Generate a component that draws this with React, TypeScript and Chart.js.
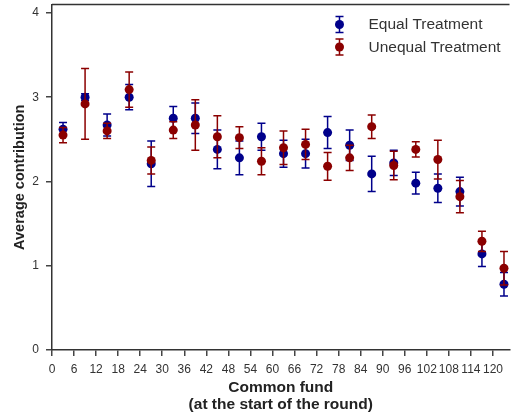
import React, { useEffect, useRef } from "react";
import { Chart, registerables } from "chart.js";

Chart.register(...registerables);

// ---- Data ----
const fundMidpoints = [3, 9, 15, 21, 27, 33, 39, 45, 51, 57, 63, 69, 75, 81, 87, 93, 99, 105, 111, 117, 123];
const equalMean = [2.62, 3.0, 2.67, 3.0, 2.21, 2.75, 2.75, 2.38, 2.28, 2.53, 2.33, 2.33, 2.58, 2.43, 2.09, 2.22, 1.98, 1.92, 1.88, 1.14, 0.78];
const equalErr = [0.08, 0.04, 0.13, 0.15, 0.27, 0.14, 0.18, 0.23, 0.2, 0.16, 0.16, 0.17, 0.19, 0.18, 0.21, 0.15, 0.13, 0.17, 0.17, 0.15, 0.14];
const unequalMean = [2.55, 2.92, 2.6, 3.09, 2.25, 2.61, 2.67, 2.53, 2.52, 2.24, 2.4, 2.44, 2.18, 2.28, 2.65, 2.19, 2.38, 2.26, 1.82, 1.29, 0.97];
const unequalErr = [0.09, 0.42, 0.09, 0.21, 0.16, 0.1, 0.3, 0.25, 0.13, 0.16, 0.2, 0.18, 0.165, 0.15, 0.14, 0.17, 0.09, 0.23, 0.19, 0.12, 0.2];
const xTickValues = [0, 6, 12, 18, 24, 30, 36, 42, 48, 54, 60, 66, 72, 78, 84, 90, 96, 102, 108, 114, 120];
const yTickValues = [0, 1, 2, 3, 4];
const seriesLabels = ["Equal Treatment", "Unequal Treatment"];
const xTitle = ["Common fund", "(at the start of the round)"];
const yTitle = "Average contribution";

const BLUE = "#00008b";
const RED = "#8b0000";
const FONT = "'Liberation Sans', Arial, sans-serif";

function drawErrSymbol(ctx: CanvasRenderingContext2D, x: number, yTop: number, yBot: number, color: string) {
  ctx.save();
  ctx.strokeStyle = color;
  ctx.lineWidth = 1.5;
  ctx.beginPath();
  ctx.moveTo(x, yTop);
  ctx.lineTo(x, yBot);
  ctx.moveTo(x - 4, yTop);
  ctx.lineTo(x + 4, yTop);
  ctx.moveTo(x - 4, yBot);
  ctx.lineTo(x + 4, yBot);
  ctx.stroke();
  ctx.restore();
}

const errorBarPlugin = {
  id: "errorBars",
  beforeDatasetDraw(chart: any, args: any) {
    const ds = chart.data.datasets[args.index];
    const errs: number[] = ds.errors;
    if (!errs) return;
    const xs = chart.scales.x;
    const ys = chart.scales.y;
    const ctx = chart.ctx;
    ds.data.forEach((p: any, i: number) => {
      const px = xs.getPixelForValue(p.x);
      const top = ys.getPixelForValue(p.y + errs[i]);
      const bot = ys.getPixelForValue(p.y - errs[i]);
      drawErrSymbol(ctx, px, top, bot, ds.borderColor);
    });
  },
  afterDraw(chart: any) {
    const ctx = chart.ctx;
    const { left, right, top } = chart.chartArea;
    ctx.save();
    ctx.strokeStyle = "#333";
    ctx.lineWidth = 1.5;
    ctx.beginPath();
    ctx.moveTo(left, top);
    ctx.lineTo(right, top);
    ctx.stroke();
    // legend
    const colors = [BLUE, RED];
    const lx = right - 170;
    seriesLabels.forEach((lab, i) => {
      const cy = top + 20 + i * 22.5;
      drawErrSymbol(ctx, lx, cy - 8, cy + 8, colors[i]);
      ctx.fillStyle = colors[i];
      ctx.beginPath();
      ctx.arc(lx, cy, 4.5, 0, Math.PI * 2);
      ctx.fill();
      ctx.fillStyle = "#333";
      ctx.font = `15.5px ${FONT}`;
      ctx.textBaseline = "middle";
      ctx.textAlign = "left";
      ctx.fillText(lab, lx + 29, cy + 0.5);
    });
    ctx.restore();
  },
};

export default function App() {
  const ref = useRef<HTMLCanvasElement | null>(null);
  useEffect(() => {
    if (!ref.current) return;
    const chart = new Chart(ref.current, {
      type: "scatter",
      data: {
        datasets: [
          {
            label: seriesLabels[0],
            data: fundMidpoints.map((x, i) => ({ x, y: equalMean[i] })),
            errors: equalErr,
            backgroundColor: BLUE,
            borderColor: BLUE,
            pointRadius: 4.5,
            pointBorderWidth: 0,
            order: 2,
          } as any,
          {
            label: seriesLabels[1],
            data: fundMidpoints.map((x, i) => ({ x, y: unequalMean[i] })),
            errors: unequalErr,
            backgroundColor: RED,
            borderColor: RED,
            pointRadius: 4.5,
            pointBorderWidth: 0,
            order: 1,
          } as any,
        ],
      },
      options: {
        animation: false,
        responsive: false,
        layout: { padding: { top: 3, right: 2, left: 0, bottom: 0 } },
        plugins: { legend: { display: false }, tooltip: { enabled: false } },
        scales: {
          x: {
            type: "linear",
            min: 0,
            max: 124.5,
            afterBuildTicks: (axis: any) => {
              axis.ticks = xTickValues.map((v) => ({ value: v }));
            },
            afterFit: (axis: any) => {
              axis.height = 65;
              axis.paddingLeft = 0;
              axis.paddingRight = 0;
            },
            ticks: {
              autoSkip: false,
              maxRotation: 0,
              padding: 6,
              color: "#333",
              font: { family: FONT, size: 12 },
            },
            grid: { display: true, drawOnChartArea: false, drawTicks: true, tickLength: 6, color: "#444", lineWidth: 1.5 },
            border: { display: true, color: "#333", width: 1.5 },
            title: {
              display: true,
              text: xTitle,
              color: "#222",
              font: { family: FONT, size: 15.5, weight: "bold", lineHeight: 1.08 },
              padding: { top: 0, bottom: 2 },
            },
          },
          y: {
            type: "linear",
            min: 0,
            max: 4.1,
            afterBuildTicks: (axis: any) => {
              axis.ticks = yTickValues.map((v) => ({ value: v }));
            },
            afterFit: (axis: any) => {
              axis.width = 52;
              axis.paddingTop = 0;
              axis.paddingBottom = 0;
            },
            ticks: {
              padding: 7,
              color: "#333",
              font: { family: FONT, size: 12 },
            },
            grid: { display: true, drawOnChartArea: false, drawTicks: true, tickLength: 6, color: "#444", lineWidth: 1.5 },
            border: { display: true, color: "#333", width: 1.5 },
            title: {
              display: true,
              text: yTitle,
              color: "#222",
              font: { family: FONT, size: 14.5, weight: "bold", lineHeight: 1.1 },
              padding: { top: 12, bottom: 0 },
            },
          },
        },
      },
      plugins: [errorBarPlugin],
    });
    return () => chart.destroy();
  }, []);
  return (
    <div style={{ position: "fixed", left: 0, top: 0, width: 514, height: 415, background: "#fff" }}>
      <canvas ref={ref} width={514} height={415} />
    </div>
  );
}
